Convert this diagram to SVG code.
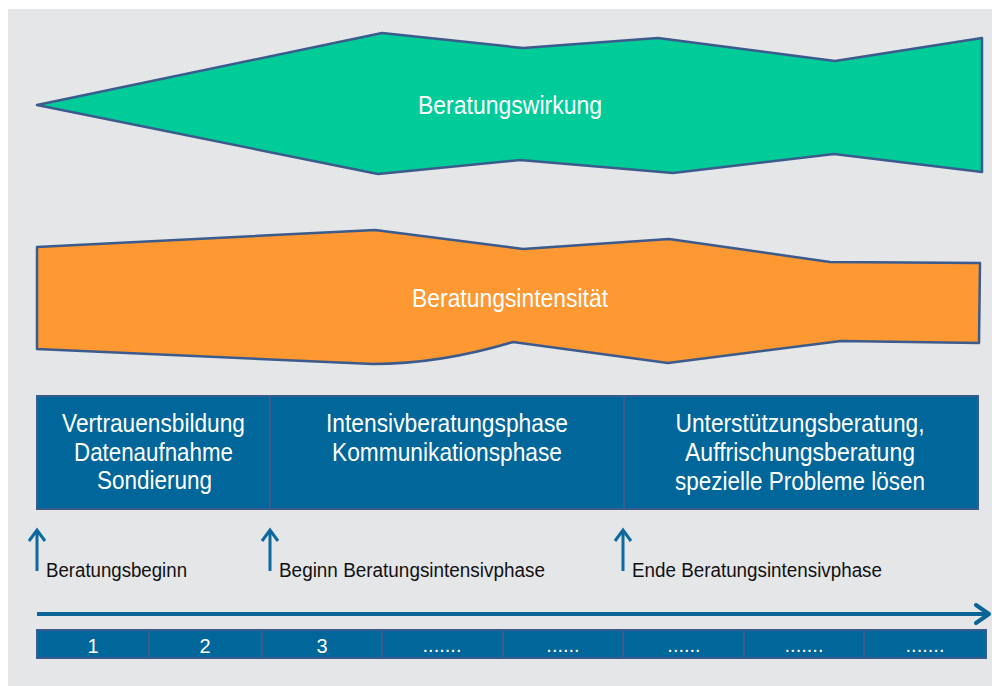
<svg xmlns="http://www.w3.org/2000/svg" width="992" height="686" viewBox="0 0 992 686">
<style>
.shape{stroke:#3b5b8c;stroke-width:2.5;stroke-linejoin:round}
.box{fill:#016699;stroke:#3b5b8c;stroke-width:2}
.wt{fill:#ffffff;font-family:"Liberation Sans Narrow","Liberation Sans",Arial,sans-serif;font-size:25px;text-anchor:middle}
.bt{fill:#111111;font-family:"Liberation Sans Narrow","Liberation Sans",Arial,sans-serif;font-size:20px}
.nt{fill:#ffffff;font-family:"Liberation Sans Narrow","Liberation Sans",Arial,sans-serif;font-size:20px;text-anchor:middle}
.arr{stroke:#0e6a9e;stroke-width:3;fill:none}
</style>
<rect x="0" y="0" width="992" height="686" fill="#ffffff"/>
<rect x="8" y="9" width="984" height="677" fill="#e5e6e8"/>

<g id="wirkung">
<polygon class="shape" fill="#00cc99" points="37,105 382,33 523,48 658,38 835,61 982,38 982,172 834,154 673,173 520,160 378,174"/>
<text class="wt" x="510" y="114" font-size="26" textLength="184" lengthAdjust="spacingAndGlyphs">Beratungswirkung</text>
</g>

<g id="intensitaet">
<path class="shape" fill="#fd9833" d="M37,247 L375,230 L523,249 L669,239 L830,262 L980,263 L979,343 L841,341 L668,363 L513,342 Q440,364 373,364 L37,349 Z"/>
<text class="wt" x="510" y="307" font-size="26" textLength="196" lengthAdjust="spacingAndGlyphs">Beratungsintensität</text>
</g>

<g id="phase1">
<rect class="box" x="37" y="396" width="233" height="113"/>
<text class="wt" x="153.5" y="432" textLength="183" lengthAdjust="spacingAndGlyphs">Vertrauensbildung</text>
<text class="wt" x="153.5" y="461" textLength="159" lengthAdjust="spacingAndGlyphs">Datenaufnahme</text>
<text class="wt" x="154.5" y="489" textLength="115" lengthAdjust="spacingAndGlyphs">Sondierung</text>
</g>
<g id="phase2">
<rect class="box" x="270" y="396" width="354" height="113"/>
<text class="wt" x="447" y="432" textLength="242" lengthAdjust="spacingAndGlyphs">Intensivberatungsphase</text>
<text class="wt" x="447" y="461" textLength="230" lengthAdjust="spacingAndGlyphs">Kommunikationsphase</text>
</g>
<g id="phase3">
<rect class="box" x="624" y="396" width="354" height="113"/>
<text class="wt" x="800" y="432" textLength="249" lengthAdjust="spacingAndGlyphs">Unterstützungsberatung,</text>
<text class="wt" x="800" y="461" textLength="230" lengthAdjust="spacingAndGlyphs">Auffrischungsberatung</text>
<text class="wt" x="800" y="490" textLength="250" lengthAdjust="spacingAndGlyphs">spezielle Probleme lösen</text>
</g>

<g id="connectors">
<path class="arr" d="M37,571 V530 M29,541 L37,530 L45,541"/>
<path class="arr" d="M270,571 V530 M262,541 L270,530 L278,541"/>
<path class="arr" d="M623,571 V530 M615,541 L623,530 L631,541"/>
<path d="M37,614 H988" stroke="#0a6596" stroke-width="4" fill="none"/>
<path d="M976,605 L989,614 L976,623" stroke="#0a6596" stroke-width="4" fill="none" stroke-linecap="round" stroke-linejoin="round"/>
</g>

<g id="labels">
<text class="bt" x="46" y="577" textLength="141" lengthAdjust="spacingAndGlyphs">Beratungsbeginn</text>
<text class="bt" x="279" y="577" textLength="266" lengthAdjust="spacingAndGlyphs">Beginn Beratungsintensivphase</text>
<text class="bt" x="632" y="577" textLength="250" lengthAdjust="spacingAndGlyphs">Ende Beratungsintensivphase</text>
</g>

<g id="timeline">
<rect class="box" x="37" y="630" width="112" height="28"/>
<rect class="box" x="149" y="630" width="113" height="28"/>
<rect class="box" x="262" y="630" width="120" height="28"/>
<rect class="box" x="382" y="630" width="121" height="28"/>
<rect class="box" x="503" y="630" width="120" height="28"/>
<rect class="box" x="623" y="630" width="121" height="28"/>
<rect class="box" x="744" y="630" width="120" height="28"/>
<rect class="box" x="864" y="630" width="122" height="28"/>
<text class="nt" x="93" y="653">1</text>
<text class="nt" x="205" y="653">2</text>
<text class="nt" x="322" y="653">3</text>
<text class="nt" x="442" y="652" font-size="14">.......</text>
<text class="nt" x="563" y="652" font-size="14">......</text>
<text class="nt" x="684" y="652" font-size="14">......</text>
<text class="nt" x="804" y="652" font-size="14">.......</text>
<text class="nt" x="925" y="652" font-size="14">.......</text>
</g>
</svg>
